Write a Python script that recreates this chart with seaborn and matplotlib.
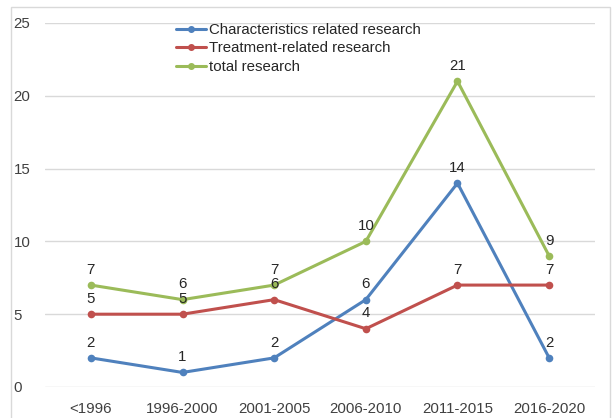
import matplotlib
matplotlib.use("Agg")
import matplotlib.pyplot as plt
from matplotlib.patches import Rectangle
from matplotlib.lines import Line2D
import seaborn as sns
import pandas as pd

periods = ["<1996", "1996-2000", "2001-2005", "2006-2010", "2011-2015", "2016-2020"]
characteristics = [2, 1, 2, 6, 14, 2]
treatment = [5, 5, 6, 4, 7, 7]
total = [7, 6, 7, 10, 21, 9]
series_names = ["Characteristics related research", "Treatment-related research", "total research"]
y_ticks = [0, 5, 10, 15, 20, 25]

colors = ["#4F81BD", "#C0504D", "#9BBB59"]

df = pd.DataFrame({
    "period": periods * 3,
    "x": list(range(len(periods))) * 3,
    "value": characteristics + treatment + total,
    "series": sum([[n] * len(periods) for n in series_names], []),
})

sns.set_theme(style="white")
plt.rcParams["font.family"] = ["Liberation Sans", "DejaVu Sans"]
FS = 10.8

fig = plt.figure(figsize=(6.14, 4.18), dpi=100)
ax = fig.add_axes([45 / 614, 1 - 387 / 418, 550 / 614, 364 / 418])

sns.lineplot(data=df, x="x", y="value", hue="series", hue_order=series_names,
             palette=colors, marker="o", markersize=5.5, markeredgewidth=0,
             linewidth=2.2, ax=ax, legend=False)

# value labels above each point
for name, vals in zip(series_names, [characteristics, treatment, total]):
    for i, v in enumerate(vals):
        ax.annotate(str(v), (i, v), xytext=(0, 6), textcoords="offset points",
                    ha="center", va="bottom", fontsize=FS, color="#262626")

ax.set_xlim(-0.5, len(periods) - 0.5)
ax.set_ylim(0, 25)
ax.set_xticks(range(len(periods)))
ax.set_xticklabels(periods)
ax.set_yticks(y_ticks)
ax.set_yticklabels([str(t) for t in y_ticks])
ax.set_xlabel("")
ax.set_ylabel("")
ax.grid(axis="y", color="#D9D9D9", linewidth=1)
ax.grid(axis="x", visible=False)
ax.set_axisbelow(True)
for s in ax.spines.values():
    s.set_visible(False)
ax.tick_params(axis="both", length=0, labelsize=FS, labelcolor="#404040")
ax.tick_params(axis="x", pad=10.5)
ax.tick_params(axis="y", pad=22.5)
for lbl in ax.get_yticklabels():
    lbl.set_horizontalalignment("left")

handles = [Line2D([0], [0], color=c, marker="o", markersize=4, linewidth=2.2) for c in colors]
fig.legend(handles, series_names, loc="upper left", bbox_to_anchor=(176 / 614, 1 - 23 / 418),
           frameon=False, fontsize=FS, handlelength=2.0, handletextpad=0.2,
           labelspacing=0.3, borderpad=0, borderaxespad=0, labelcolor="#262626")

fig.patches.append(Rectangle((11 / 614, -0.01), 599 / 614, 1.01 - 7 / 418,
                             transform=fig.transFigure, fill=False,
                             edgecolor="#D9D9D9", linewidth=1))

fig.savefig("out.png", dpi=100)
